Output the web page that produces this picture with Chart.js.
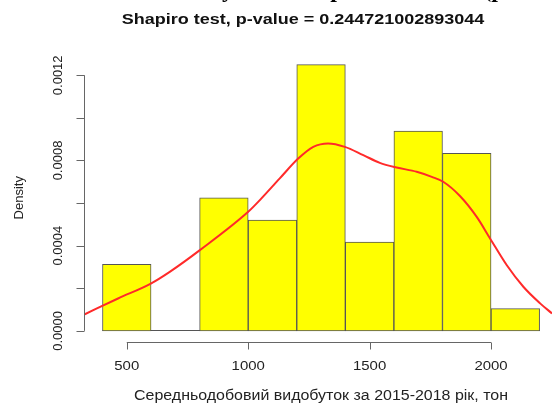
<!DOCTYPE html>
<html>
<head>
<meta charset="utf-8">
<script src="https://cdn.jsdelivr.net/npm/chart.js@4/dist/chart.umd.min.js"></script>
<style>
  html, body { margin: 0; padding: 0; background: #fff; }
  canvas { display: block; }
</style>
</head>
<body>
<canvas id="hist" width="552" height="403"></canvas>
<script>
// histogram bins (left edges, width 200) and densities
const binStarts = [400, 600, 800, 1000, 1200, 1400, 1600, 1800, 2000];
const binWidth = 200;
const densities = [0.0003125, 0, 0.000625, 0.00052, 0.00125, 0.000417, 0.0009375, 0.000833, 0.000104];

// kernel density curve
const curveX = [327, 464, 599, 677, 801, 1000, 1048, 1130, 1206, 1268, 1329, 1398, 1474, 1542,
                1611, 1694, 1756, 1803, 1872, 1941, 1996, 2065, 2133, 2202, 2251];
const curveY = [0.000078, 0.000152, 0.000222, 0.000277, 0.000379, 0.000559, 0.000614, 0.000716,
                0.000809, 0.000864, 0.00088, 0.000864, 0.000825, 0.000789, 0.000767, 0.000747,
                0.000723, 0.0007, 0.000633, 0.000535, 0.000434, 0.000308, 0.000207, 0.000129, 0.000082];

// axis ticks
const xTicks = [500, 1000, 1500, 2000];
const yTicks = [0, 0.0002, 0.0004, 0.0006, 0.0008, 0.001, 0.0012];
const yLabels = ['0.0000', '', '0.0004', '', '0.0008', '', '0.0012'];

const titleText = 'Shapiro test, p-value = 0.244721002893044';
const xTitle = 'Середньодобовий видобуток за 2015-2018 рік, тон';
const yTitle = 'Density';

const SANS = '"Liberation Sans", Arial, sans-serif';

// the figure was scaled wider than tall, so texts get a horizontal stretch
function wideText(ctx, text, x, y, sx) {
    ctx.save();
    ctx.translate(x, y);
    ctx.scale(sx, 1);
    ctx.fillText(text, 0, 0);
    ctx.restore();
}

/* -------------------- AXES PLUGIN -------------------- */

const rAxes = {
    id: 'rAxes',
    beforeDatasetsDraw(chart) {
        const { ctx, scales: { x, y } } = chart;
        // base line under the bars
        ctx.save();
        ctx.strokeStyle = '#555';
        ctx.lineWidth = 1;
        const y0 = Math.round(y.getPixelForValue(0)) - 0.5;
        ctx.beginPath();
        ctx.moveTo(x.getPixelForValue(binStarts[0]), y0);
        ctx.lineTo(x.getPixelForValue(binStarts[binStarts.length - 1] + binWidth), y0);
        ctx.stroke();
        ctx.restore();
    },
    afterDraw(chart) {
        const { ctx, chartArea, scales: { x, y } } = chart;
        ctx.save();
        ctx.strokeStyle = '#666';
        ctx.lineWidth = 1;
        ctx.fillStyle = '#222';

        // x axis
        const ax = Math.round(chartArea.bottom) + 0.5;
        ctx.beginPath();
        ctx.moveTo(x.getPixelForValue(xTicks[0]), ax);
        ctx.lineTo(x.getPixelForValue(xTicks[xTicks.length - 1]), ax);
        xTicks.forEach(v => {
            const px = Math.round(x.getPixelForValue(v)) + 0.5;
            ctx.moveTo(px, ax);
            ctx.lineTo(px, ax + 7);
        });
        ctx.stroke();
        ctx.font = '13px ' + SANS;
        ctx.textAlign = 'center';
        ctx.textBaseline = 'middle';
        xTicks.forEach(v => wideText(ctx, String(v), x.getPixelForValue(v), 366, 1.15));

        // y axis
        const ay = Math.round(chartArea.left) - 0.5;
        ctx.beginPath();
        ctx.moveTo(ay, y.getPixelForValue(yTicks[0]));
        ctx.lineTo(ay, y.getPixelForValue(yTicks[yTicks.length - 1]));
        yTicks.forEach(v => {
            const py = Math.round(y.getPixelForValue(v)) + 0.5;
            ctx.moveTo(ay, py);
            ctx.lineTo(ay - 8, py);
        });
        ctx.stroke();
        ctx.font = '13px ' + SANS;
        yTicks.forEach((v, i) => {
            if (!yLabels[i]) return;
            ctx.save();
            ctx.translate(58, y.getPixelForValue(v));
            ctx.rotate(-Math.PI / 2);
            ctx.fillText(yLabels[i], 0, 0);
            ctx.restore();
        });

        // axis titles
        ctx.save();
        ctx.translate(19, (chartArea.top + chartArea.bottom) / 2);
        ctx.rotate(-Math.PI / 2);
        ctx.fillText(yTitle, 0, 0);
        ctx.restore();
        ctx.font = '14px ' + SANS;
        wideText(ctx, xTitle, 321, 396, 1.14);

        // main title
        ctx.fillStyle = '#111';
        ctx.font = 'bold 15px ' + SANS;
        wideText(ctx, titleText, 303, 20, 1.2);

        // bottoms of the document line cut off above the figure
        ctx.font = 'bold 24px "Liberation Serif", serif';
        ctx.textBaseline = 'alphabetic';
        ctx.fillStyle = '#000';
        ctx.fillText('у', 228, -3.5);
        ctx.fillText('р', 337, -3.5);
        ctx.fillText('(р', 494, -3.5);
        ctx.restore();
    }
};

/* -------------------- CHART -------------------- */

new Chart(document.getElementById('hist'), {
    type: 'bar',
    data: {
        datasets: [
            {
                type: 'line',
                data: curveX.map((v, i) => ({ x: v, y: curveY[i] })),
                borderColor: '#ff2a2a',
                borderWidth: 2,
                pointRadius: 0,
                cubicInterpolationMode: 'monotone',
                fill: false,
                order: 0
            },
            {
                type: 'bar',
                data: binStarts.map((v, i) => ({ x: v + binWidth / 2, y: densities[i] })),
                backgroundColor: '#ffff00',
                borderColor: '#555',
                borderWidth: 1,
                borderSkipped: false,
                barPercentage: 1,
                categoryPercentage: 1,
                grouped: false,
                order: 1
            }
        ]
    },
    options: {
        responsive: false,
        animation: false,
        layout: { padding: { left: 85, right: 0, top: 54, bottom: 61.5 } },
        plugins: {
            legend: { display: false },
            tooltip: { enabled: false },
            title: { display: false }
        },
        scales: {
            x: {
                type: 'linear', min: 328, max: 2251, offset: false, display: false,
                // ticks on the bin edges so the bars fill the whole bin
                afterBuildTicks: s => {
                    s.ticks = binStarts.concat(binStarts[binStarts.length - 1] + binWidth)
                        .map(v => ({ value: v }));
                }
            },
            y: { type: 'linear', min: -0.00005, max: 0.0013, display: false }
        }
    },
    plugins: [rAxes]
});
</script>
</body>
</html>
